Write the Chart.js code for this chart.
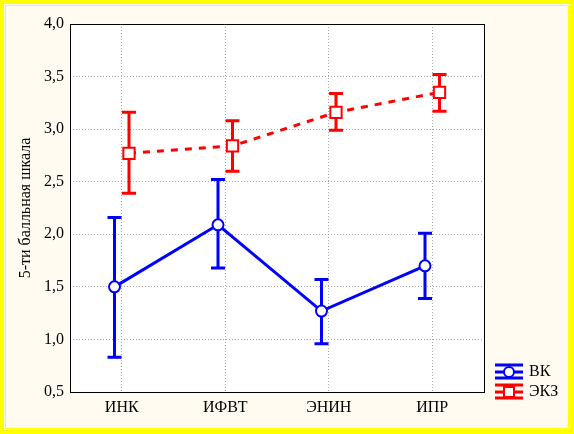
<!DOCTYPE html>
<html>
<head>
<meta charset="utf-8">
<script src="https://cdn.jsdelivr.net/npm/chart.js@4/dist/chart.umd.min.js"></script>
<style>
  body { margin: 0; background: #ffff00; }
  canvas { display: block; }
</style>
</head>
<body>
<canvas id="chart" width="574" height="434"></canvas>
<script>
// data
var categories = ['ИНК', 'ИФВТ', 'ЭНИН', 'ИПР'];
var vkMean = [1.50, 2.09, 1.27, 1.70];
var vkLow = [0.83, 1.68, 0.96, 1.39];
var vkHigh = [2.16, 2.52, 1.57, 2.01];
var ekzMean = [2.77, 2.84, 3.16, 3.35];
var ekzLow = [2.39, 2.60, 2.99, 3.17];
var ekzHigh = [3.16, 3.08, 3.34, 3.52];
var yTicks = [0.5, 1.0, 1.5, 2.0, 2.5, 3.0, 3.5, 4.0];
var seriesNames = ['ВК', 'ЭКЗ'];

var shift = 0.07; // series are drawn a bit apart around the category

function points(vals, dx) {
    return vals.map(function (v, i) { return { x: i + dx, y: v }; });
}

var frame = {
    id: 'frame',
    beforeDraw: function (chart) {
        var ctx = chart.ctx, a = chart.chartArea;
        var w = chart.width, h = chart.height;
        ctx.save();
        ctx.fillStyle = '#ffff00';
        ctx.fillRect(0, 0, w, h);
        ctx.fillStyle = '#ffffff';
        ctx.fillRect(4, 4, w - 8, h - 8);
        ctx.fillStyle = '#ffff00';
        ctx.fillRect(5, 5, w - 10, h - 10);
        ctx.fillStyle = '#fffbf0';
        ctx.fillRect(6, 6, w - 12, h - 12);
        ctx.fillStyle = '#ffffff';
        ctx.fillRect(a.left, a.top, a.right - a.left, a.bottom - a.top);
        ctx.restore();
    },
    beforeDatasetsDraw: function (chart) {
        var ctx = chart.ctx, a = chart.chartArea;
        ctx.save();
        ctx.strokeStyle = '#000000';
        ctx.lineWidth = 1;
        ctx.strokeRect(Math.round(a.left) + 0.5, Math.round(a.top) + 0.5,
            Math.round(a.right - a.left), Math.round(a.bottom - a.top));
        // error bars
        var y = chart.scales.y;
        chart.data.datasets.forEach(function (ds, di) {
            var meta = chart.getDatasetMeta(di);
            ctx.strokeStyle = ds.borderColor;
            ctx.lineWidth = 3;
            ctx.setLineDash([]);
            meta.data.forEach(function (pt, i) {
                var yl = y.getPixelForValue(ds.errLow[i]);
                var yh = y.getPixelForValue(ds.errHigh[i]);
                ctx.beginPath();
                ctx.moveTo(pt.x, yl);
                ctx.lineTo(pt.x, yh);
                ctx.moveTo(pt.x - 7, yl);
                ctx.lineTo(pt.x + 7, yl);
                ctx.moveTo(pt.x - 7, yh);
                ctx.lineTo(pt.x + 7, yh);
                ctx.stroke();
            });
        });
        ctx.restore();
    },
    afterDraw: function (chart) {
        var ctx = chart.ctx;
        ctx.save();
        chart.data.datasets.forEach(function (ds, di) {
            var cy = 372 + di * 20;
            var x0 = 495, x1 = 523, cx = 509;
            ctx.strokeStyle = ds.borderColor;
            ctx.lineWidth = 3;
            ctx.beginPath();
            ctx.moveTo(x0, cy - 7); ctx.lineTo(x1, cy - 7);
            ctx.moveTo(x0, cy + 6); ctx.lineTo(x1, cy + 6);
            ctx.moveTo(x0, cy); ctx.lineTo(x1, cy);
            ctx.stroke();
            ctx.fillStyle = '#ffffff';
            ctx.lineWidth = 2;
            ctx.beginPath();
            if (di === 0) {
                ctx.arc(cx, cy, 5, 0, Math.PI * 2);
            } else {
                ctx.rect(cx - 5, cy - 5, 10, 10);
            }
            ctx.fill();
            ctx.stroke();
            ctx.fillStyle = '#000000';
            ctx.font = '16px "Liberation Serif"';
            ctx.textBaseline = 'middle';
            ctx.textAlign = 'left';
            ctx.fillText(seriesNames[di], 529, cy);
        });
        ctx.restore();
    }
};

new Chart(document.getElementById('chart'), {
    type: 'line',
    data: {
        datasets: [{
            label: seriesNames[0],
            data: points(vkMean, -shift),
            errLow: vkLow,
            errHigh: vkHigh,
            borderColor: '#0000ff',
            borderWidth: 3,
            pointStyle: 'circle',
            pointRadius: 5.5,
            pointBorderWidth: 2,
            pointBackgroundColor: '#ffffff',
            pointBorderColor: '#0000ff',
            tension: 0
        }, {
            label: seriesNames[1],
            data: points(ekzMean, shift),
            errLow: ekzLow,
            errHigh: ekzHigh,
            borderColor: '#ff0000',
            borderWidth: 3,
            borderDash: [7, 7],
            pointStyle: 'rect',
            pointRadius: 8,
            pointBorderWidth: 2,
            pointBackgroundColor: '#ffffff',
            pointBorderColor: '#ff0000',
            tension: 0
        }]
    },
    options: {
        responsive: false,
        animation: false,
        layout: { padding: { left: 0, top: 24, right: 90, bottom: 0 } },
        plugins: {
            legend: { display: false },
            tooltip: { enabled: false }
        },
        scales: {
            x: {
                type: 'linear',
                min: -0.5,
                max: 3.5,
                afterBuildTicks: function (s) {
                    s.ticks = categories.map(function (c, i) { return { value: i }; });
                },
                afterFit: function (s) { s.height = 42; },
                ticks: {
                    color: '#000000',
                    font: { family: 'Liberation Serif', size: 16 },
                    padding: 6,
                    maxRotation: 0,
                    callback: function (v) { return categories[v]; }
                },
                grid: { color: '#a8a8a8', drawTicks: false },
                border: { display: false, dash: [1, 2] }
            },
            y: {
                min: 0.5,
                max: 4.0,
                afterBuildTicks: function (s) {
                    s.ticks = yTicks.map(function (v) { return { value: v }; });
                },
                afterFit: function (s) { s.width = 70; },
                ticks: {
                    color: '#000000',
                    font: { family: 'Liberation Serif', size: 16 },
                    padding: 6,
                    callback: function (v) { return v.toFixed(1).replace('.', ','); }
                },
                grid: { color: '#a8a8a8', drawTicks: false },
                border: { display: false, dash: [1, 2] },
                title: {
                    display: true,
                    text: '5-ти балльная шкала',
                    color: '#000000',
                    font: { family: 'Liberation Serif', size: 16 },
                    padding: { top: 16, bottom: 0 }
                }
            }
        }
    },
    plugins: [frame]
});
</script>
</body>
</html>
